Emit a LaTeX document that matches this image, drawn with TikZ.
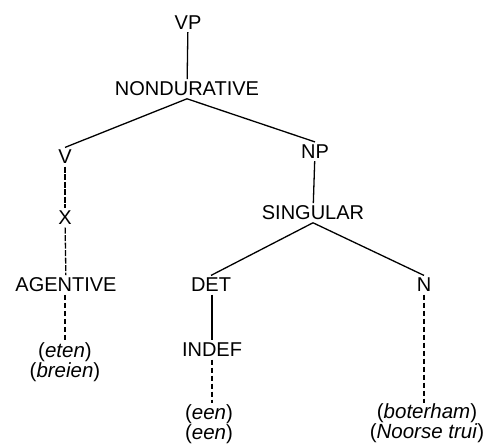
\documentclass[tikz,border=0pt]{standalone}
\usepackage{fontspec}
\setmainfont{Liberation Sans}
\usepackage{tikz}
\tikzstyle{cat} = [inner sep=2.5pt, font=\fontsize{20}{19}\selectfont]
\tikzstyle{word} = [inner sep=1pt, align=center, anchor=north, font=\fontsize{20.5}{17.5}\selectfont]
\tikzstyle{branch} = [draw, line width=1.3pt]
\tikzstyle{finebranch} = [draw, line width=1.3pt, dash pattern=on 6pt off 1.5pt]
\tikzstyle{dashbranch} = [draw, line width=1.3pt, dash pattern=on 5pt off 3pt]

\begin{document}
\begin{tikzpicture}[x=1pt, y=-1pt]
        \useasboundingbox (0,0) rectangle (497,444);
        \node[cat] (vp) at (188,22.5) {VP};
        \node[cat] (nondur) at (187,89) {NONDURATIVE};
        \node[cat] (v) at (65,157) {V};
        \node[cat] (x) at (65,218) {X};
        \node[cat] (agentive) at (66,285) {AGENTIVE};
        \node[word] (eten) at (65,341) {(\textit{eten})\\(\textit{breien})};
        \node[cat] (np) at (315,151.5) {NP};
        \node[cat] (singular) at (313,213) {SINGULAR};
        \node[cat] (det) at (211,285) {DET};
        \node[cat] (indef) at (212,350) {INDEF};
        \node[word] (een) at (209,403) {(\textit{een})\\(\textit{een})};
        \node[cat] (n) at (424,285) {N};
        \node[word] (boterham) at (427,402.5) {(\textit{boterham})\\(\textit{Noorse trui})};
        \path[branch] (vp) -- (nondur);
        \path[branch] (nondur.south) -- (v.north);
        \path[branch] (nondur.south) -- (np.north);
        \path[finebranch] (v) -- (x);
        \path[finebranch] (x) -- (agentive);
        \path[dashbranch] (agentive.south -| eten.north) -- (eten.north);
        \path[branch] (np) -- (singular);
        \path[branch] (singular.south) -- (det.north);
        \path[branch] (singular.south) -- (n.north);
        \path[branch] (det.south -| indef.north) -- (indef.north);
        \path[dashbranch] (indef.south) -- (indef.south |- een.north);
        \path[dashbranch] (n.south) -- (n.south |- boterham.north);
    \end{tikzpicture}
\end{document}
